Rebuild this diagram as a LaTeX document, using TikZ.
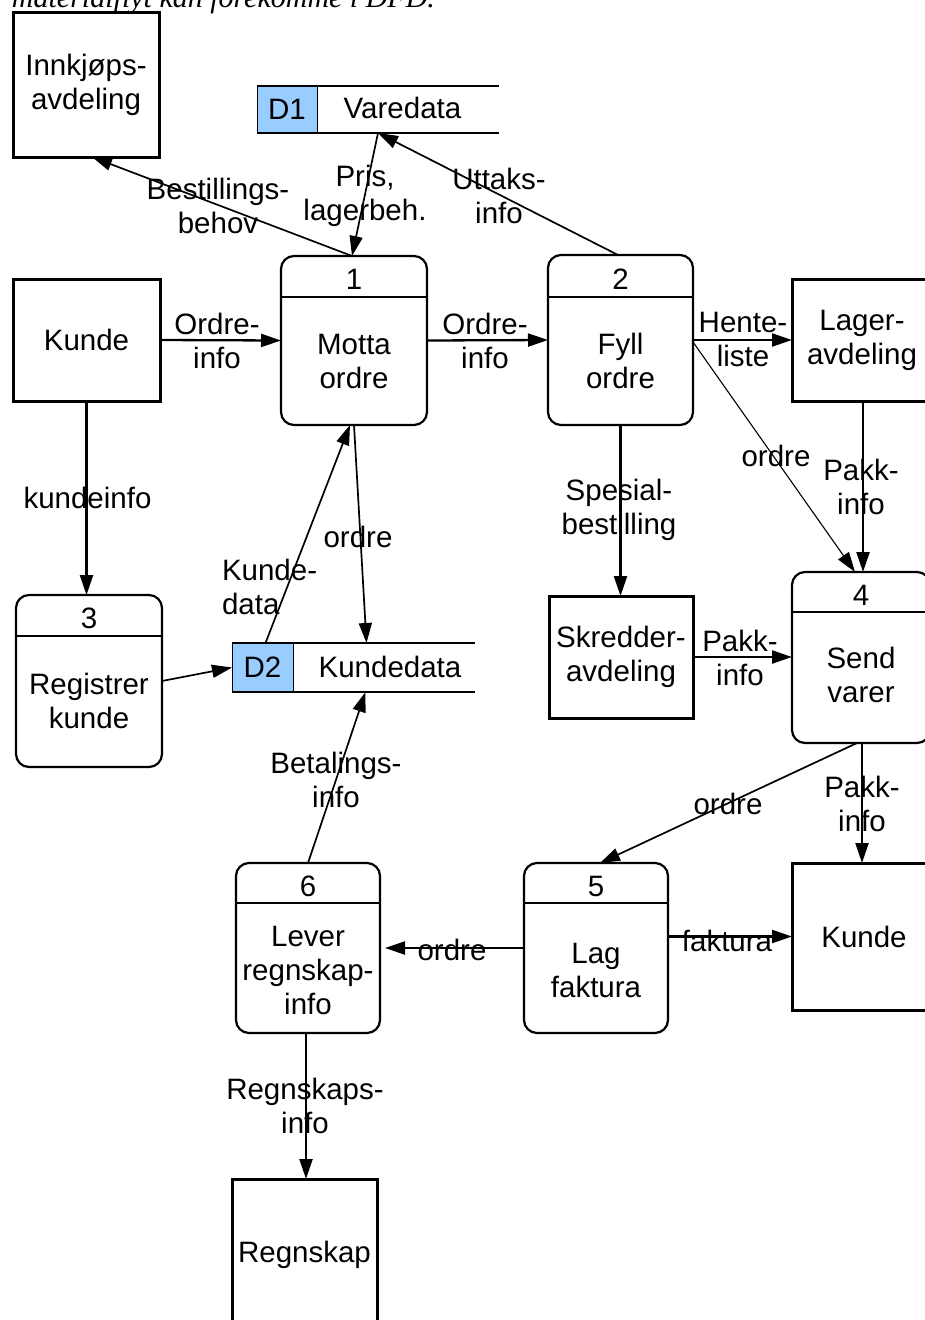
\documentclass[tikz,border=0pt]{standalone}
\usepackage{fontspec}
\setmainfont{Liberation Sans}
\newfontfamily\capfont{Liberation Serif}
\usetikzlibrary{arrows.meta,calc}
\definecolor{storeblue}{HTML}{99CCFF}
\begin{document}
\begin{tikzpicture}[x=1pt,y=-1pt,
  every node/.style={inner sep=0pt, outer sep=0pt, font=\fontsize{29.5}{34}\selectfont, align=center},
  entity/.style={draw, line width=3pt, rectangle},
  proc/.style={draw, line width=2.2pt, rectangle, rounded corners=13pt},
  divider/.style={line width=2.2pt},
  flow/.style={line width=2.3pt, -{Triangle[length=20pt,width=13pt]}},
  dflow/.style={line width=1.7pt, -{Triangle[length=20pt,width=13pt]}},
  thinflow/.style={line width=1.1pt, -{Triangle[length=20pt,width=13pt]}},
  storeline/.style={line width=2.5pt},
  storekey/.style={draw, line width=1pt, fill=storeblue, anchor=west}
]
\useasboundingbox (0,0) rectangle (925,1320);
\clip (0,0) rectangle (925,1320);

% caption (cut off at top, as in the reference)
\node[anchor=base west, font=\capfont\itshape\fontsize{30}{36}\selectfont] (cap) at (12,7.5) {materialflyt kan forekomme i DFD.};

% external entities
\node[entity, minimum width=146pt, minimum height=145pt] (inn) at (86,84.5) {Innkjøps-\\avdeling};
\node[entity, minimum width=147pt, minimum height=122pt] (k1) at (86.5,340) {Kunde};
\node[entity, minimum width=140pt, minimum height=122pt] (lager) at (862,340) {Lager-\\avdeling};
\node[entity, minimum width=144pt, minimum height=122pt] (skr) at (621,657) {Skredder-\\avdeling};
\node[entity, minimum width=144pt, minimum height=147pt] (k2) at (864,936.5) {Kunde};
\node[entity, minimum width=145pt, minimum height=151pt] (reg) at (304.5,1254.5) {Regnskap};

% processes
\node[proc, minimum width=146pt, minimum height=169pt] (p1) at (354,340.5) {};
\draw[divider] ([yshift=-41pt]p1.north west) -- ([yshift=-41pt]p1.north east);
\node (p1n) at (354,279) {1};
\node (p1t) at (354,361) {Motta\\ordre};

\node[proc, minimum width=145pt, minimum height=170pt] (p2) at (620.5,340) {};
\draw[divider] ([yshift=-42pt]p2.north west) -- ([yshift=-42pt]p2.north east);
\node (p2n) at (620.5,279) {2};
\node (p2t) at (620.5,361) {Fyll\\ordre};

\node[proc, minimum width=146pt, minimum height=172pt] (p3) at (89,681) {};
\draw[divider] ([yshift=-41pt]p3.north west) -- ([yshift=-41pt]p3.north east);
\node (p3n) at (89,618) {3};
\node (p3t) at (89,701) {Registrer\\kunde};

\node[proc, minimum width=138pt, minimum height=171pt] (p4) at (861,657.5) {};
\draw[divider] ([yshift=-40pt]p4.north west) -- ([yshift=-40pt]p4.north east);
\node (p4n) at (861,595) {4};
\node (p4t) at (861,675) {Send\\varer};

\node[proc, minimum width=144pt, minimum height=170pt] (p5) at (596,948) {};
\draw[divider] ([yshift=-40pt]p5.north west) -- ([yshift=-40pt]p5.north east);
\node (p5n) at (596,886) {5};
\node (p5t) at (596,970) {Lag\\faktura};

\node[proc, minimum width=144pt, minimum height=170pt] (p6) at (308,948) {};
\draw[divider] ([yshift=-40pt]p6.north west) -- ([yshift=-40pt]p6.north east);
\node (p6n) at (308,886) {6};
\node (p6t) at (308,970.5) {Lever\\regnskap-\\info};

% data stores
\node[minimum width=242pt, minimum height=47pt] (d1) at (378,109.5) {};
\node[storekey, minimum width=60pt, minimum height=47pt] (d1k) at (d1.west) {D1};
\draw[storeline] (d1.north west) -- (d1.north east) (d1.south west) -- (d1.south east);
\node (d1t) at (402.5,108) {Varedata};

\node[minimum width=243pt, minimum height=49pt] (d2) at (353.5,667.5) {};
\node[storekey, minimum width=61pt, minimum height=49pt] (d2k) at (d2.west) {D2};
\draw[storeline] (d2.north west) -- (d2.north east) (d2.south west) -- (d2.south east);
\node (d2t) at (390,667) {Kundedata};

% flows
\draw[dflow] ([xshift=-2pt]p1.north) -- ([xshift=6pt]inn.south);
\draw[dflow] (d1.south) -- ([xshift=-2pt]p1.north);
\draw[dflow] ([xshift=-2.5pt]p2.north) -- (d1.south);
\draw[flow] (k1.east) -- (p1.west);
\draw[flow] (p1.east) -- (p2.west);
\draw[flow] (p2.east) -- (lager.west);
\draw[thinflow] ([yshift=-2pt]p2.east) -- ([xshift=-6pt]p4.north);
\draw[flow] ([xshift=1pt]lager.south) -- ([xshift=1pt]lager.south|-p4.north);
\draw[flow] (k1.south) -- (k1.south|-p3.north);
\draw[dflow] (p3.east) -- (d2.west);
\draw[dflow] ([xshift=3pt]d2k.north) -- ([xshift=-4pt]p1.south);
\draw[dflow] (p1.south) -- ([xshift=13pt]d2.north);
\draw[flow] (p2.south) -- (p2.south|-skr.north);
\draw[flow] (skr.east) -- (p4.west|-skr.east);
\draw[dflow] ([xshift=-4pt]p4.south) -- ([xshift=4pt]p5.north);
\draw[flow] ([xshift=1pt]p4.south) -- ([xshift=1pt]p4.south|-k2.north);
\draw[flow] (p5.west) -- ([xshift=5pt]p6.east);
\draw[flow] (p5.east|-k2.west) -- (k2.west);
\draw[dflow] (p6.north) -- ([xshift=12pt]d2.south);
\draw[flow] ([xshift=-2pt]p6.south) -- ([xshift=-2pt]p6.south|-reg.north);

% flow labels
\node (l1) at (218,206) {Bestillings-\\behov};
\node (l2) at (365,196) {Pris,\\lagerbeh.};
\node (l3) at (499,196) {Uttaks-\\info};
\node (l4) at (217,341) {Ordre-\\info};
\node (l5) at (485,341) {Ordre-\\info};
\node (l6) at (743,339) {Hente-\\liste};
\node (l7) at (776,456) {ordre};
\node (l8) at (861,487) {Pakk-\\info};
\node (l9) at (87.5,498) {kundeinfo};
\node[align=left, anchor=west] (l10) at (222,587) {Kunde-\\data};
\node (l11) at (358,537) {ordre};
\node (l12) at (619,510) {Spesial-\\bestilling};
\node (l13) at (740,657.5) {Pakk-\\info};
\node (l14) at (728,804) {ordre};
\node (l15) at (862,804) {Pakk-\\info};
\node (l16) at (452,950) {ordre};
\node (l17) at (727,941) {faktura};
\node (l18) at (336,779.5) {Betalings-\\info};
\node (l19) at (305,1105.5) {Regnskaps-\\info};
\end{tikzpicture}
\end{document}
